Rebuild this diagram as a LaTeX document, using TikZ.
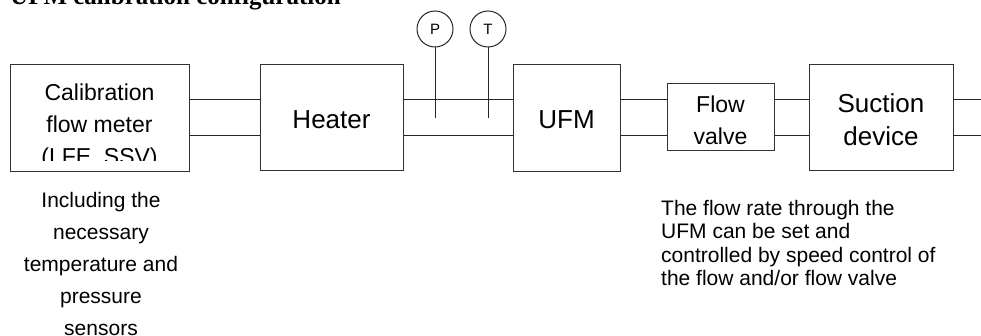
\documentclass[tikz,border=0pt]{standalone}
\usepackage{fontspec}
\newfontfamily\arialf{Liberation Sans}
\newfontfamily\timesf{Liberation Serif}
\begin{document}
\begin{tikzpicture}[x=1pt,y=-1pt,
  box/.style={draw=black!80, line width=1pt, rectangle, inner sep=0pt},
  pipe/.style={draw=black!85, line width=1pt},
  sensor/.style={draw=black!85, line width=1pt, circle, inner sep=0pt, minimum size=36pt, font=\arialf\fontsize{15}{17}\selectfont},
  big/.style={font=\arialf\fontsize{26}{32}\selectfont, inner sep=0pt, anchor=base},
  mid/.style={font=\arialf\fontsize{23}{32}\selectfont, inner sep=0pt, anchor=base},
  note/.style={font=\arialf\fontsize{21}{23}\selectfont, inner sep=0pt, anchor=base}]
\useasboundingbox (0,0) rectangle (981,336);
\clip (0,0) rectangle (981,336);
% title (clipped at top)
\node[font=\timesf\bfseries\fontsize{25}{30}\selectfont, inner sep=0pt, anchor=base west] (title) at (10,5) {UFM calibration configuration};
% boxes
\node[box, minimum width=179pt, minimum height=107pt] (cal) at (99.5,118.5) {};
\node[box, minimum width=143pt, minimum height=106pt] (heater) at (331.5,118) {};
\node[box, minimum width=107pt, minimum height=107pt] (ufm) at (566.5,118.5) {};
\node[box, minimum width=107pt, minimum height=67pt] (valve) at (720.5,117.5) {};
\node[box, minimum width=144pt, minimum height=106pt] (suction) at (881,118) {};
\node[sensor] (P) at (435,29) {P};
\node[sensor] (T) at (488,29) {T};
\coordinate (Pend) at (435,118);
\coordinate (Tend) at (488,118);
\coordinate (out1) at (981,100);
\coordinate (out2) at (981,136);
% pipes
\foreach \a/\b in {cal/heater, heater/ufm, ufm/valve, valve/suction}{
  \draw[pipe] (\a.east |- 0,100) -- (\b.west |- 0,100);
  \draw[pipe] (\a.east |- 0,136) -- (\b.west |- 0,136);
}
\draw[pipe] (suction.east |- out1) -- (out1);
\draw[pipe] (suction.east |- out2) -- (out2);
\draw[pipe] (P.south) -- (Pend);
\draw[pipe] (T.south) -- (Tend);
% box texts
\begin{scope}
\clip (10,65) rectangle (189,161);
\node[mid] (cal1) at (99.5,101) {Calibration};
\node[mid] (cal2) at (99.5,133) {flow meter};
\node[mid] (cal3) at (99.5,165) {(LFE, SSV)};
\end{scope}
\node[big] (heatertxt) at (331.5,129) {Heater};
\node[big] (ufmtxt) at (566.5,129) {UFM};
\node[mid] (valve1) at (720.5,113) {Flow};
\node[mid] (valve2) at (720.5,145) {valve};
\node[big] (suc1) at (881,113) {Suction};
\node[big] (suc2) at (881,146) {device};
% left note
\node[note] (l1) at (101,208) {Including the};
\node[note] (l2) at (101,240) {necessary};
\node[note] (l3) at (101,272) {temperature and};
\node[note] (l4) at (101,303) {pressure};
\node[note] (l5) at (101,335) {sensors};
% right note
\node[note, anchor=base west] (r1) at (661,216) {The flow rate through the};
\node[note, anchor=base west] (r2) at (661,239) {UFM can be set and};
\node[note, anchor=base west] (r3) at (661,262) {controlled by speed control of};
\node[note, anchor=base west] (r4) at (661,285) {the flow and/or flow valve};
\end{tikzpicture}
\end{document}
